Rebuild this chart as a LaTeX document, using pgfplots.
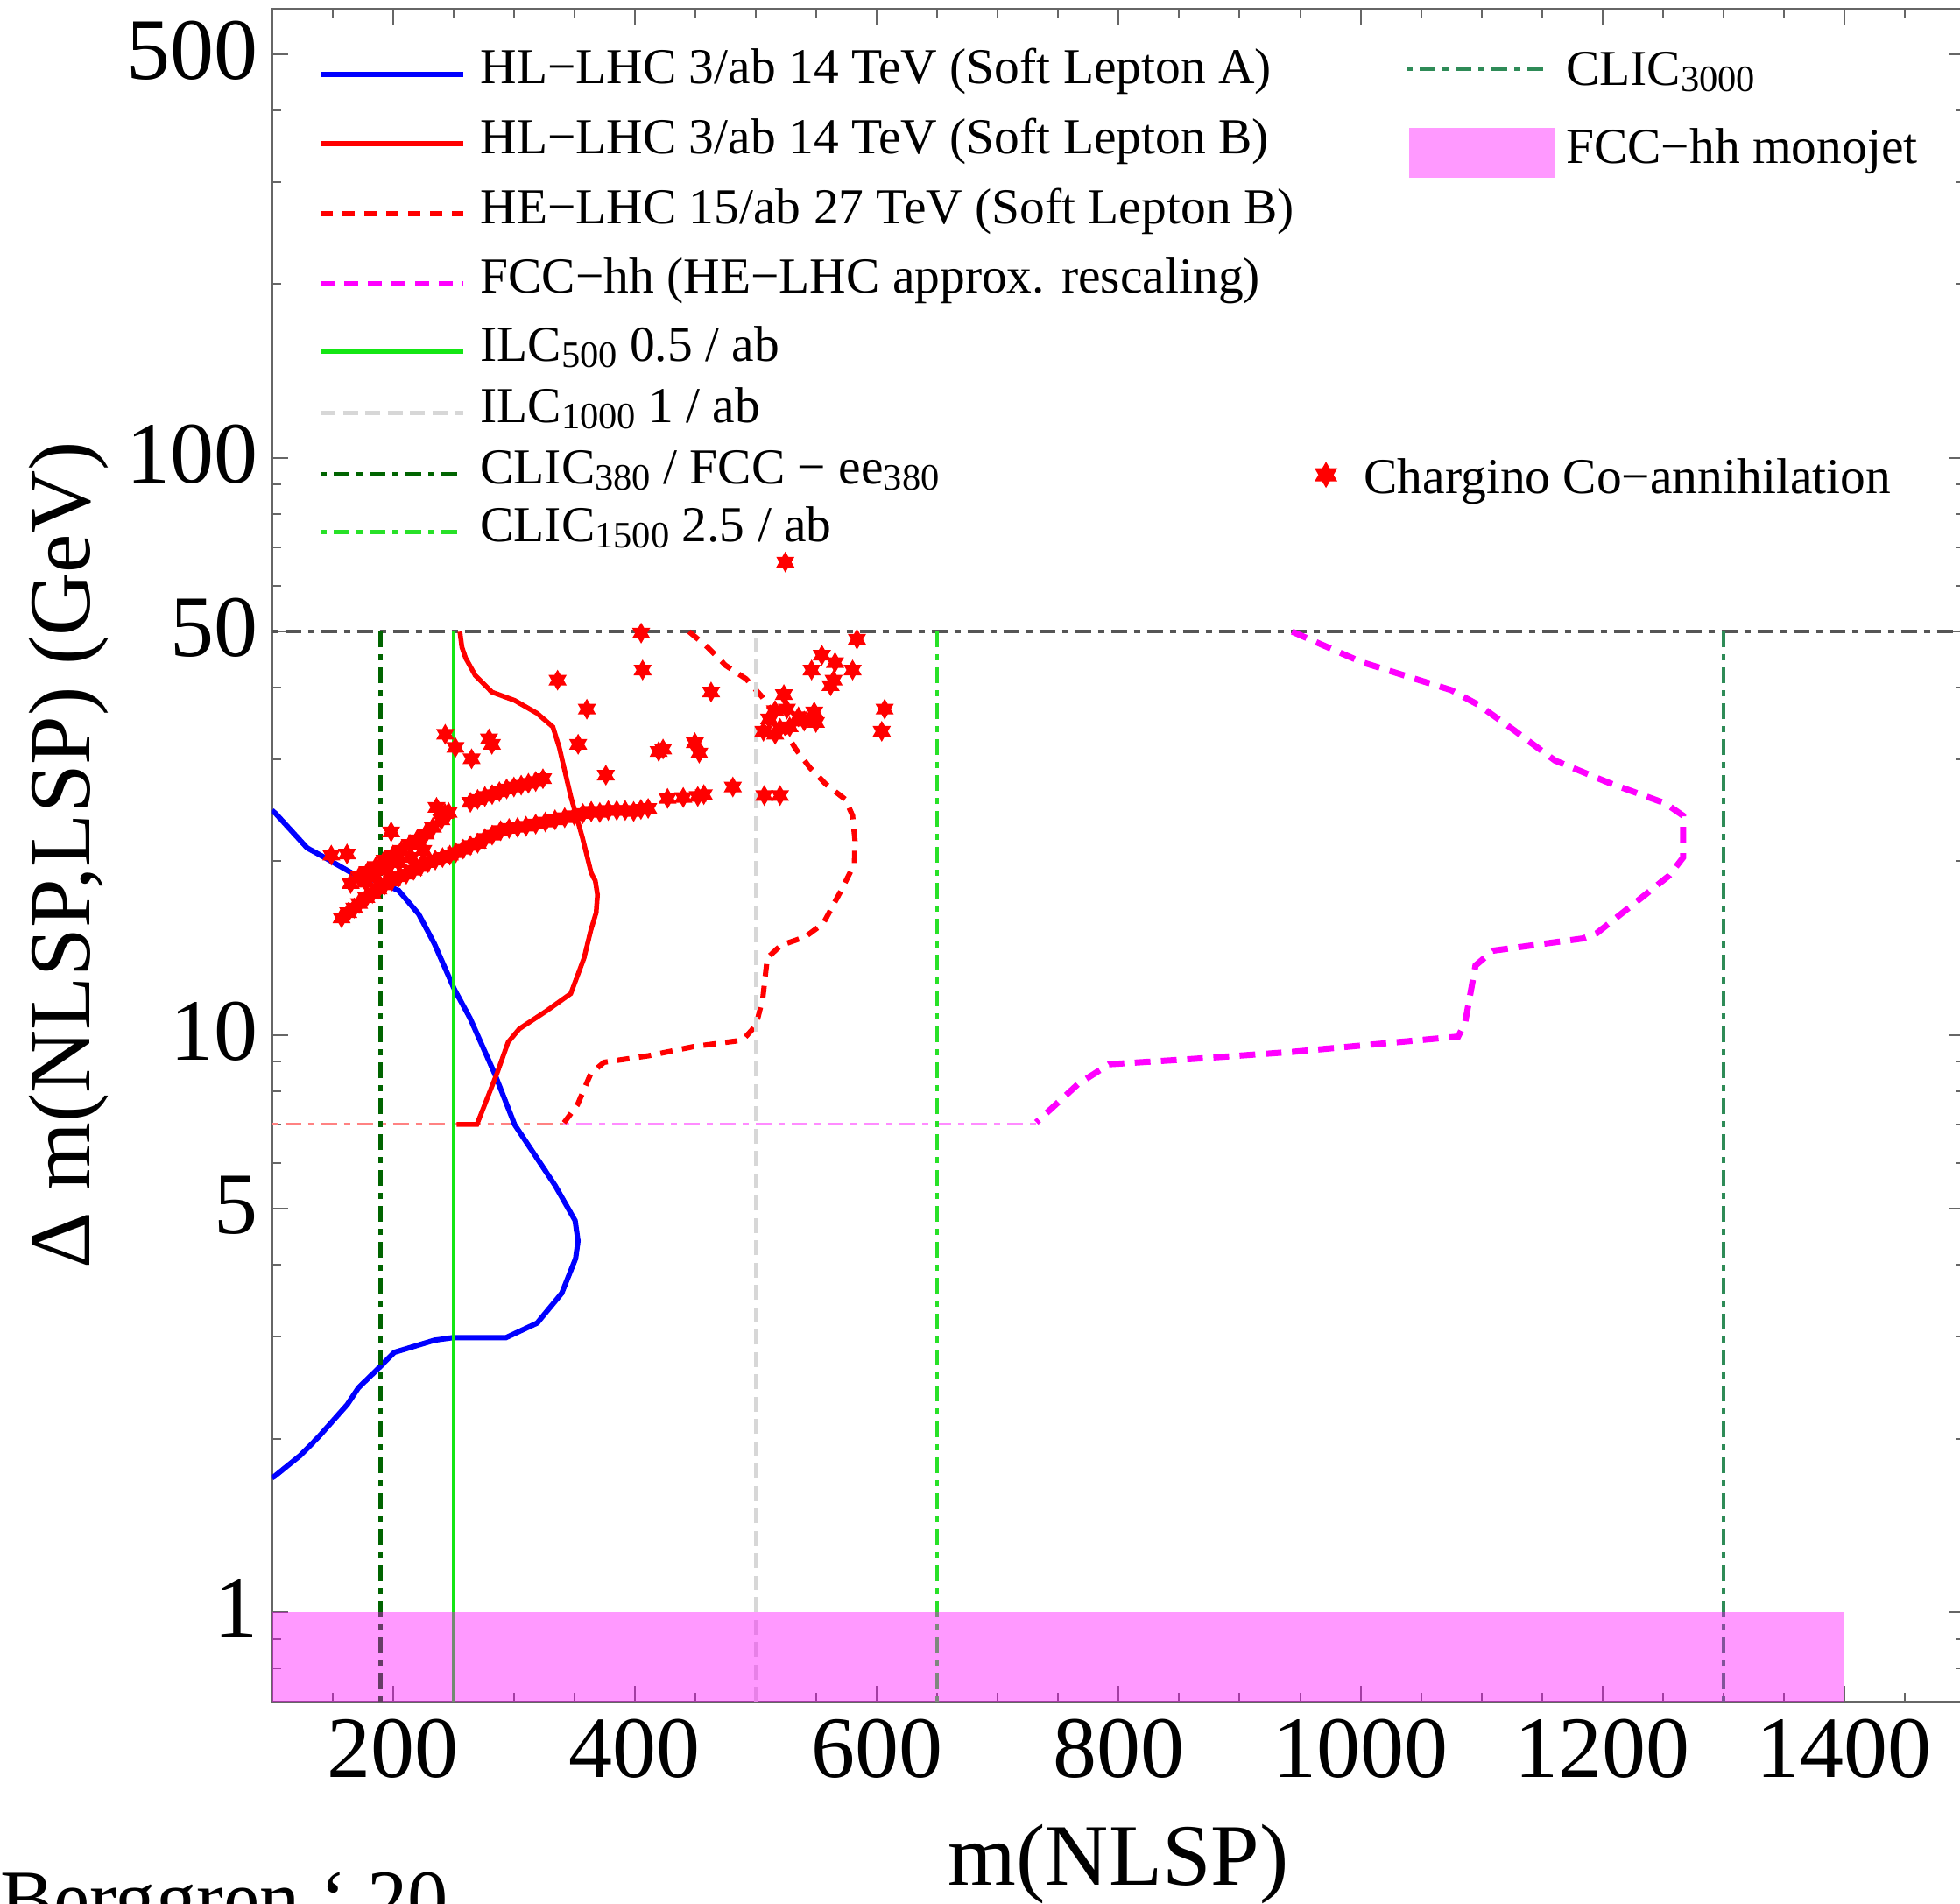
\documentclass[border=0pt]{standalone}
\usepackage{fontspec}
\setmainfont{Liberation Serif}
\usepackage{pgfplots}
\pgfplotsset{compat=1.18}

\definecolor{myblue}{RGB}{0,0,255}
\definecolor{myred}{RGB}{255,0,0}
\definecolor{mymag}{RGB}{255,0,255}
\definecolor{ilcgreen}{RGB}{20,230,20}
\definecolor{ilcgray}{RGB}{215,215,215}
\definecolor{clicdark}{RGB}{0,100,0}
\definecolor{clicmid}{RGB}{40,225,40}
\definecolor{clicsea}{RGB}{46,139,87}
\definecolor{gray50}{RGB}{85,85,85}
\definecolor{palered}{RGB}{255,130,130}
\definecolor{palemag}{RGB}{255,140,255}

\pgfdeclareplotmark{hexstar}{%
  \pgfpathmoveto{\pgfqpointpolar{90}{\pgfplotmarksize}}%
  \pgfpathlineto{\pgfqpointpolar{210}{\pgfplotmarksize}}%
  \pgfpathlineto{\pgfqpointpolar{330}{\pgfplotmarksize}}%
  \pgfpathclose
  \pgfpathmoveto{\pgfqpointpolar{30}{\pgfplotmarksize}}%
  \pgfpathlineto{\pgfqpointpolar{150}{\pgfplotmarksize}}%
  \pgfpathlineto{\pgfqpointpolar{270}{\pgfplotmarksize}}%
  \pgfpathclose
  \pgfusepathqfill}

\tikzset{dd/.style={dash pattern=on 1.4pt off 1.6pt on 3.6pt off 1.6pt}}
\newcommand\ls[1]{\rule[-#1]{0pt}{\dimexpr9pt+#1\relax}}
\newcommand\sub[1]{\raisebox{-1.4pt}{\fontsize{8.5}{9}\selectfont#1}}

\pgfplotsset{
  base/.style={at={(62.12pt,46pt)}, anchor=south west, scale only axis,
    width=386.7pt, height=386.6pt},
  leg/.style={legend style={draw=none, fill=none, inner sep=0pt, outer sep=0pt,
    row sep=0pt, cells={anchor=base west}, nodes={inner sep=0pt, text depth=},
    font=\fontsize{11.5}{13}\selectfont}},
  mainimg/.style={legend image code/.code={\draw[##1] (0pt,2.2pt) -- (32.5pt,2.2pt);}},
  seaimg/.style={legend image code/.code={\draw[##1] (0pt,3.8pt) -- (31.5pt,3.8pt);}},
  boximg/.style={legend image code/.code={\fill[##1] (0.7pt,-3.3pt) rectangle (33.9pt,8.1pt);}},
  starimg/.style={legend image code/.code={\path (0pt,0pt) (5.4pt,0pt); \draw[##1] plot coordinates {(2.7pt,4.2pt)};}},
}

\begin{document}
\begin{tikzpicture}
\begin{axis}[base, leg,
  xmin=100, xmax=1500, ymin=0.7, ymax=600, ymode=log,
  xtick={200,400,...,1400}, xticklabels={200,400,600,800,1000,1200,1400},
  minor xtick={150,250,300,350,450,500,550,650,700,750,850,900,950,1050,1100,1150,1250,1300,1350,1450},
  ytick={1,5,10,50,100,500}, yticklabels={1,5,10,50,100,500},
  minor ytick={0.8,0.9,2,3,4,6,7,8,9,20,30,40,60,70,80,90,200,300,400},
  tick label style={font=\fontsize{20}{24}\selectfont, inner sep=0pt},
  xticklabel style={anchor=north, yshift=-3.8pt},
  yticklabel style={anchor=east, xshift=-3.1pt, yshift=0.8pt},
  major tick length=3.6pt, minor tick length=2pt,
  every tick/.style={black!60, line width=0.4pt},
  axis line style={black!60, line width=0.5pt},
  xlabel={m(NLSP)}, ylabel={Δ m(NLSP,LSP) (GeV)},
  label style={font=\fontsize{20}{24}\selectfont},
  xlabel style={at={(axis description cs:0.5,0)}, anchor=base, yshift=-41.8pt},
  ylabel style={at={(axis description cs:-0.1074,0.5)}, anchor=base},
  legend style={at={(0.02736,0.97889)}, anchor=north west,
    /tikz/every odd column/.append style={column sep=3.3pt}},
  mainimg,
]
% chargino co-annihilation points
\addplot[only marks, mark=hexstar, mark size=2.4pt, color=myred, forget plot] coordinates {
(157.5,15.96) (163,16.3) (168,16.6) (172,16.9) (178,17.3) (183,17.6) (188,17.9) (193,18.2)
(199,18.5) (205,18.8) (211,19.0) (217,19.3) (223,19.6) (229,19.9) (235,20.1) (241,20.3)
(247,20.5) (252,20.7) (258,21.0) (264,21.3) (270,21.5) (276,21.9) (282,22.2) (289,22.6)
(296,22.8) (303,22.9) (310,23.0) (318,23.2) (326,23.4) (334,23.6) (342,23.8) (350,24.0)
(357,24.2) (364,24.4) (371,24.3) (378,24.5) (385,24.5) (392,24.5) (399,24.4) (405,24.6)
(411,24.7) (427,25.7) (440,25.8) (452,25.9) (457,26.1) (481,26.9) (507,26.0) (520,26.0)
(165,18.3) (172,18.8) (179,19.2) (186,19.6) (193,20.1) (200,20.5) (207,20.9) (214,21.4)
(220,21.8) (227,22.3) (233,22.9) (240,23.6) (246,24.3)
(185,18.9) (195,19.3) (205,19.9) (215,20.3) (225,20.9) (178,18.4)
(198.5,22.5) (236,24.8) (243,24.2) (149,20.5) (162,20.6)
(264,25.3) (270,25.6) (276,25.9) (282,26.1) (288,26.4) (294,26.7) (300,26.9) (306,27.1)
(312,27.3) (318,27.5) (324,27.8)
(243.2,33.2) (251.6,31.5) (265,30.1) (279.4,32.6) (281.8,31.9) (336.1,41.2) (360.3,36.7)
(353.1,31.9) (363.9,24.4)
(524.4,66.0) (405.2,49.7) (406.4,42.9) (463,39.3) (423.3,31.3) (419.7,31.0) (449.6,32.1)
(453.2,30.8) (376,28.2)
(583.6,48.5) (554.6,45.5) (546.1,42.9) (565.5,44.2) (580,42.9) (564.3,41.2) (561.8,40.3)
(523.2,38.9) (515.9,36.5) (525.6,36.7) (535.3,35.6) (548.3,36.3) (549.7,34.8) (506.3,33.6)
(516,33.2) (528,34.2) (511,35.3) (520,34.0) (540,35.0) (606.5,36.7) (604.1,33.6)
};
% horizontal reference lines
\addplot[gray50, line width=0.8pt, dd, forget plot] coordinates {(100,50) (1500,50)};
\addplot[palemag, line width=0.6pt, dd, forget plot] coordinates {(341,7) (732,7)};
\addplot[palered, line width=0.6pt, dd, forget plot] coordinates {(100,7) (341,7)};
% HL-LHC soft lepton A
\addplot[myblue, line width=1.2pt, forget plot] coordinates {
(100,24.5) (103,24.2) (129,21.1) (145.5,20.2) (167.7,19.0) (186.3,18.5) (204.7,17.8)
(221.3,16.2) (234.2,14.4) (250.8,12.0) (263.7,10.7) (284,8.58) (300.7,6.99) (315.5,6.28)
(334,5.49) (350.6,4.77) (353,4.4) (351,4.1) (339.5,3.57) (319.2,3.17) (293.3,2.99)
(249,2.99) (234.2,2.96) (201,2.82) (189.9,2.67) (171.5,2.45) (162.2,2.29) (138.2,2.01)
(123.4,1.87) (102,1.72) (100,1.71)};
% HL-LHC soft lepton B
\addplot[myred, line width=1.1pt, forget plot] coordinates {
(255.3,50) (257,47) (260.1,45.0) (268,42) (281.7,39.3) (300.7,38.0) (319.2,36.1)
(332.2,34.2) (337.5,31.5) (347,25.9) (356.6,22.0) (363.9,19.1) (367.3,18.5) (369.1,17.5)
(368,16.3) (363.6,15.2) (358,13.6) (347,11.8) (326.6,11.0) (304.4,10.25) (295.2,9.72)
(286,8.58) (269.4,7.0) (252.7,7.0)};
% HE-LHC soft lepton B
\addplot[myred, line width=1.2pt, dash pattern=on 2.8pt off 2.2pt, forget plot] coordinates {
(444.8,50) (460,47) (475,43.7) (492,41.4) (505,38.6) (519,35) (533,31.3) (545,29.0)
(558,27.2) (574,25.6) (580,24.0) (582,21.7) (581.5,19.8) (570.5,17.8) (555.7,15.6)
(540.9,14.8) (520.6,14.3) (509.5,13.6) (505.8,11.6) (500.2,10.4) (489.1,9.8) (448.5,9.55)
(411.6,9.21) (374.5,8.97) (363.6,8.58) (352.5,7.57) (341.4,7.05)};
% FCC-hh rescaling
\addplot[mymag, line width=1.4pt, dash pattern=on 3.6pt off 2.4pt, forget plot] coordinates {
(943.4,50) (1000.6,44.3) (1075,39.6) (1097.8,37.3) (1126.4,33.8) (1160.7,29.9) (1206.4,27.3)
(1252,25.2) (1266.6,24.0) (1266.6,20.3) (1255.2,18.9) (1229.3,17.1) (1195,15.0) (1183.6,14.7)
(1109.3,14.0) (1095,13.2) (1086.4,10.5) (1080.7,9.94) (1012,9.64) (943.4,9.35) (857.7,9.08)
(792,8.90) (766.3,8.22) (731.9,7.06)};
% lepton collider kinematic limits
\addplot[clicdark, line width=1pt, dd, forget plot] coordinates {(190,0.7) (190,50)};
\addplot[ilcgreen, line width=0.9pt, forget plot] coordinates {(250,0.7) (250,50)};
\addplot[ilcgray, line width=0.9pt, dash pattern=on 3.4pt off 1.7pt, forget plot] coordinates {(500,0.7) (500,50)};
\addplot[clicmid, line width=0.9pt, dd, forget plot] coordinates {(650,0.7) (650,50)};
\addplot[clicsea, line width=0.8pt, dd, forget plot] coordinates {(1300,0.7) (1300,50)};
% FCC-hh monojet
\addplot[fill=mymag, fill opacity=0.4, draw=none, forget plot] coordinates {(100,0.7) (1400,0.7) (1400,1) (100,1)} -- cycle;
% legend
\addlegendimage{myblue, line width=1.1pt}
\addlegendentry{\ls{6.88pt}HL−LHC 3/ab 14 TeV (Soft Lepton A)}
\addlegendimage{myred, line width=1.1pt}
\addlegendentry{\ls{7.0pt}HL−LHC 3/ab 14 TeV (Soft Lepton B)}
\addlegendimage{myred, line width=1.1pt, dash pattern=on 2.8pt off 2.2pt}
\addlegendentry{\ls{6.88pt}HE−LHC 15/ab 27 TeV (Soft Lepton B)}
\addlegendimage{mymag, line width=1.2pt, dash pattern=on 3.2pt off 2.2pt}
\addlegendentry{\ls{6.64pt}FCC−hh (HE−LHC approx. rescaling)}
\addlegendimage{ilcgreen, line width=1pt}
\addlegendentry{\ls{5.0pt}ILC\sub{500} 0.5 / ab}
\addlegendimage{ilcgray, line width=1pt, dash pattern=on 3.4pt off 1.7pt}
\addlegendentry{\ls{4.94pt}ILC\sub{1000} 1 / ab}
\addlegendimage{clicdark, line width=1pt, dd}
\addlegendentry{\ls{4.12pt}CLIC\sub{380} / FCC − ee\sub{380}}
\addlegendimage{clicmid, line width=1pt, dd}
\addlegendentry{\ls{4pt}CLIC\sub{1500} 2.5 / ab}
\end{axis}

\begin{axis}[base, leg, hide axis, xmin=0, xmax=1, ymin=0, ymax=1,
  legend style={at={(0.66866,0.97812)}, anchor=north west,
    /tikz/every odd column/.append style={column sep=2.6pt}}]
\addlegendimage{clicsea, line width=0.9pt, dd, seaimg}
\addlegendentry{\ls{8.9pt}CLIC\sub{3000}}
\addlegendimage{area legend, fill=mymag, fill opacity=0.4, draw=none, boximg}
\addlegendentry{\ls{3pt}FCC−hh monojet}
\end{axis}

\begin{axis}[base, leg, hide axis, xmin=0, xmax=1, ymin=0, ymax=1,
  legend style={at={(0.61493,0.73707)}, anchor=north west,
    /tikz/every odd column/.append style={column sep=5.8pt}}]
\addlegendimage{only marks, mark=hexstar, mark size=3pt, myred, starimg}
\addlegendentry{\ls{3pt}Chargino Co−annihilation}
\end{axis}

\node[anchor=base west, inner sep=0pt, font=\fontsize{18.5}{22}\selectfont] at (-0.2pt,-5.25pt) {Berggren ‘ 20};
\pgfresetboundingbox
\useasboundingbox (0,0) rectangle (447.6pt,434.6pt);
\end{tikzpicture}
\end{document}
